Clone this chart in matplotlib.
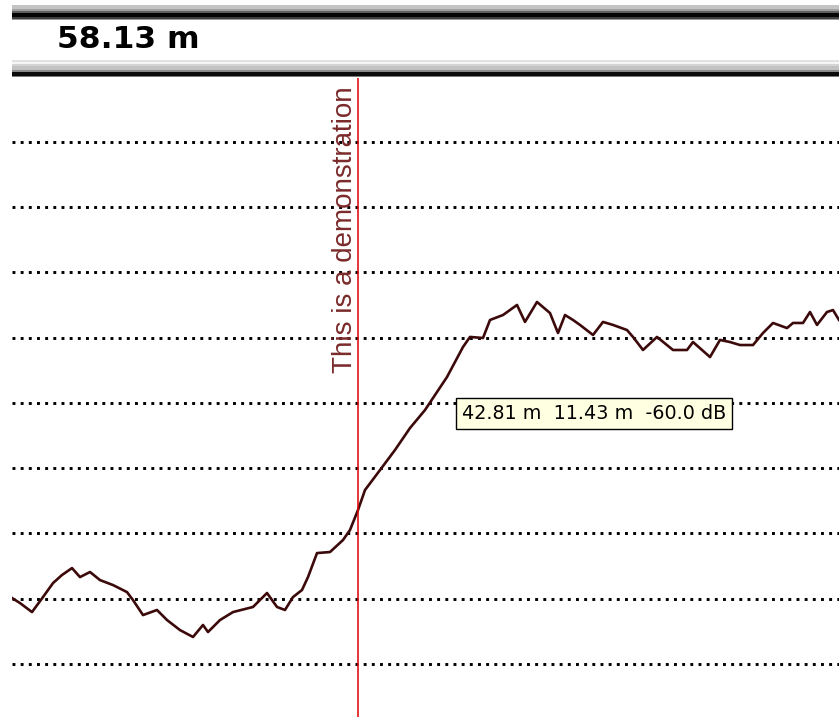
import matplotlib
matplotlib.use("Agg")
import matplotlib.pyplot as plt
from matplotlib.patches import Rectangle

W_PX, H_PX = 839, 717

# trace: distance (m) vs level (dB)
dist_m = [1.29, 2.25, 3.69, 5.01, 6.21, 7.29, 8.49, 9.45, 10.65, 11.85, 13.41, 15.09, 15.81,
          17.01, 18.69, 19.89, 21.45, 23.01, 24.21, 24.81, 26.25, 27.81, 30.21, 31.89, 33.09,
          34.05, 35.01, 36.09, 36.81, 37.89, 39.45, 41.01, 41.85, 42.81, 43.65, 45.45, 47.25,
          49.05, 50.85, 52.05, 53.49, 55.41, 56.25, 57.81, 58.65, 60.21, 61.89, 62.85, 64.29,
          65.85, 66.81, 67.65, 68.61, 69.45, 71.01, 72.21, 73.41, 75.09, 75.81, 77.01, 78.69,
          80.61, 82.29, 83.01, 85.05, 86.25, 87.45, 88.65, 90.21, 91.41, 92.61, 94.29, 95.01,
          96.21, 97.05, 97.89, 99.09, 99.81, 100.53]
level_db = [-54.94, -55.33, -56.02, -54.87, -53.80, -53.18, -52.65, -53.34, -52.95, -53.57,
            -53.95, -54.49, -55.10, -56.25, -55.86, -56.63, -57.40, -57.93, -57.01, -57.55,
            -56.63, -56.02, -55.63, -54.56, -55.63, -55.86, -54.87, -54.33, -53.34, -51.50,
            -51.42, -50.50, -49.73, -48.20, -46.67, -45.14, -43.60, -41.92, -40.54, -39.39,
            -38.01, -35.71, -34.94, -35.02, -33.64, -33.26, -32.49, -33.79, -32.26, -33.11,
            -34.64, -33.26, -33.64, -34.02, -34.79, -33.79, -34.02, -34.41, -34.94, -35.94,
            -34.94, -35.94, -35.94, -35.33, -36.48, -35.17, -35.33, -35.56, -35.56, -34.64,
            -33.87, -34.26, -33.87, -33.87, -33.03, -34.02, -33.03, -32.88, -33.64]

grid_levels = [-20, -25, -30, -35, -40, -45, -50, -55, -60]
cursor_m = 42.81
header_label = "58.13 m"
cursor_label = "This is a demonstration"
tooltip_label = "42.81 m  11.43 m  -60.0 dB"
tooltip_pos = (55.29, -40.81)

# header stripes (pixel rows, colour)
top_band = [(5, 9, "#c4c4c4"), (9, 11, "#a0a0a0"), (11, 13, "#606060"), (13, 17, "#050505"),
            (17, 19, "#404040"), (19, 20, "#9a9a9a")]
bottom_band = [(60, 62, "#e2e2e2"), (62, 64, "#f6f6f6"), (64, 66, "#d4d4d4"), (66, 70, "#c2c2c2"),
               (70, 72, "#8a8a8a"), (72, 76, "#0a0a0a"), (76, 77, "#7a7a7a")]

fig = plt.figure(figsize=(W_PX / 100, H_PX / 100), dpi=100)
fig.patch.set_facecolor("white")


def fy(py):
    return 1 - py / H_PX


for y0, y1, c in top_band + bottom_band:
    fig.add_artist(Rectangle((12 / W_PX, fy(y1)), (W_PX - 12) / W_PX, (y1 - y0) / H_PX,
                             transform=fig.transFigure, facecolor=c, edgecolor="none"))

fig.text(57 / W_PX, fy(40), header_label, fontsize=22.6, fontweight="bold",
         family="DejaVu Sans", ha="left", va="center", color="black")

ax = fig.add_axes([12 / W_PX, 0, (W_PX - 12) / W_PX, (H_PX - 78) / H_PX])
ax.set_axis_off()
ax.set_xlim(1.29, 100.53)
ax.set_ylim(-64.06, -15.10)

for g in grid_levels:
    ax.axhline(g, color="black", lw=2.1, ls=(0, (1, 1.8)), dash_capstyle="butt", zorder=1)

ax.plot(dist_m, level_db, color="#3c0a0a", lw=1.9, zorder=3)

ax.axvline(cursor_m, color="#e00000", lw=1.1, zorder=4)
ax.text(cursor_m - 1.55, -26.75, cursor_label, rotation=90, fontsize=20, family="Liberation Sans",
        color="#7b2a2a", ha="center", va="center", zorder=5)

ax.text(tooltip_pos[0], tooltip_pos[1], tooltip_label, fontsize=13.8, family="DejaVu Sans",
        ha="left", va="center", zorder=6,
        bbox=dict(boxstyle="square,pad=0.3", facecolor="#ffffe1", edgecolor="black", lw=1))

fig.savefig("out.png", dpi=100)
